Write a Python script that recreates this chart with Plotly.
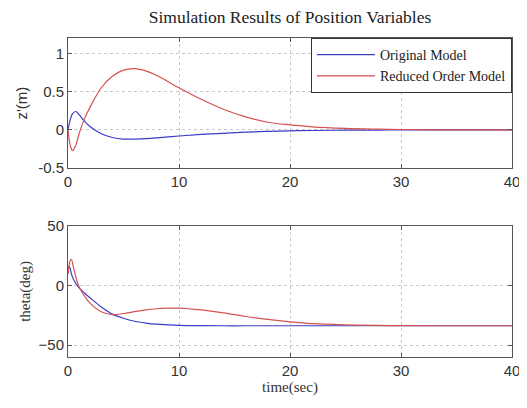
import plotly.graph_objects as go
from plotly.subplots import make_subplots

# Top panel: z'(m)
t_top = [0, 0.2, 0.4, 0.7, 1.0, 1.5, 2, 3, 4, 5, 6, 7, 8, 10, 12, 14, 16, 18, 20, 22, 25, 28, 30, 35, 40]
z_orig = [0, 0.13, 0.21, 0.24, 0.2, 0.11, 0.04, -0.05, -0.1, -0.12, -0.12, -0.115, -0.105, -0.08,
          -0.06, -0.045, -0.03, -0.02, -0.012, -0.008, -0.004, -0.002, 0, 0, 0]
z_red = [0, -0.2, -0.27, -0.2, -0.05, 0.15, 0.3, 0.55, 0.7, 0.78, 0.8, 0.77, 0.71, 0.55,
         0.4, 0.27, 0.17, 0.1, 0.065, 0.04, 0.02, 0.01, 0.005, 0, 0]

# Bottom panel: theta(deg)
t_bot = [0, 0.1, 0.2, 0.3, 0.5, 0.8, 1, 1.5, 2, 3, 4, 5, 6, 7, 8, 9, 10, 12, 14, 16, 18, 20, 22, 25, 28, 30, 35, 40]
th_orig = [10, 16, 14, 10, 5, 0.5, -2, -6.5, -10.5, -18, -24, -27.5, -30, -31.5, -32.5, -33, -33.4, -33.7,
           -33.8, -33.8, -33.8, -33.8, -33.8, -33.8, -33.8, -33.8, -33.8, -33.8]
th_red = [10, 17, 21, 22, 15, 4, -1, -9, -15, -22, -24.5, -23.5, -22, -20.5, -19.5, -19, -19, -20.5,
          -23, -26, -28.5, -30.5, -32, -33, -33.5, -33.7, -33.8, -33.8]

BLUE = "#3c3cc4"
RED = "#d45252"

fig = make_subplots(rows=2, cols=1, vertical_spacing=0.18)

fig.add_trace(go.Scatter(x=t_top, y=z_orig, mode="lines", name="Original Model",
                         line=dict(color=BLUE, width=1.2, shape="spline")), row=1, col=1)
fig.add_trace(go.Scatter(x=t_top, y=z_red, mode="lines", name="Reduced Order Model",
                         line=dict(color=RED, width=1.2, shape="spline")), row=1, col=1)
fig.add_trace(go.Scatter(x=t_bot, y=th_orig, mode="lines", showlegend=False,
                         line=dict(color=BLUE, width=1.2, shape="spline")), row=2, col=1)
fig.add_trace(go.Scatter(x=t_bot, y=th_red, mode="lines", showlegend=False,
                         line=dict(color=RED, width=1.2, shape="spline")), row=2, col=1)

axis_common = dict(showline=True, linecolor="#555", linewidth=1, mirror="ticks", ticks="inside",
                   ticklen=4, tickcolor="#555", showgrid=True, gridcolor="#c8c8c8", griddash="dot",
                   zeroline=False, automargin=False, ticklabeloverflow="allow",
                   tickfont=dict(family="Liberation Sans", size=15, color="#333"))

fig.update_xaxes(range=[0, 40], dtick=10, **axis_common)
fig.update_yaxes(**axis_common)
fig.update_yaxes(range=[-0.5, 1.2], tickvals=[-0.5, 0, 0.5, 1], ticktext=["-0.5", "0", "0.5", "1"],
                 title=dict(text="z'(m)", font=dict(family="Liberation Sans", size=15, color="#333"), standoff=6),
                 row=1, col=1)
fig.update_yaxes(range=[-60, 50], tickvals=[-50, 0, 50],
                 title=dict(text="theta(deg)", font=dict(family="Liberation Serif", size=15, color="#333"), standoff=4),
                 row=2, col=1)
fig.update_xaxes(title=dict(text="time(sec)", font=dict(family="Liberation Serif", size=15, color="#333"), standoff=2),
                 row=2, col=1)

fig.update_layout(
    width=519, height=400,
    margin=dict(l=60, r=15, t=30, b=51, autoexpand=False),
    paper_bgcolor="white", plot_bgcolor="white",
    title=dict(text="Simulation Results of Position Variables", x=282 / 519, xanchor="center", y=1 - 9 / 400,
               yref="container", yanchor="middle", automargin=False,
               font=dict(family="Liberation Serif", size=17.5, color="#222")),
    legend=dict(x=1, y=1, xanchor="right", yanchor="top", bgcolor="white", bordercolor="#333", borderwidth=1,
                font=dict(family="Liberation Serif", size=14, color="#222"), tracegroupgap=0, itemwidth=58),
    showlegend=True,
)
fig.layout.yaxis.domain = [0.592, 1.0]
fig.layout.yaxis2.domain = [0.0, 0.411]

fig.write_html("out.html")
